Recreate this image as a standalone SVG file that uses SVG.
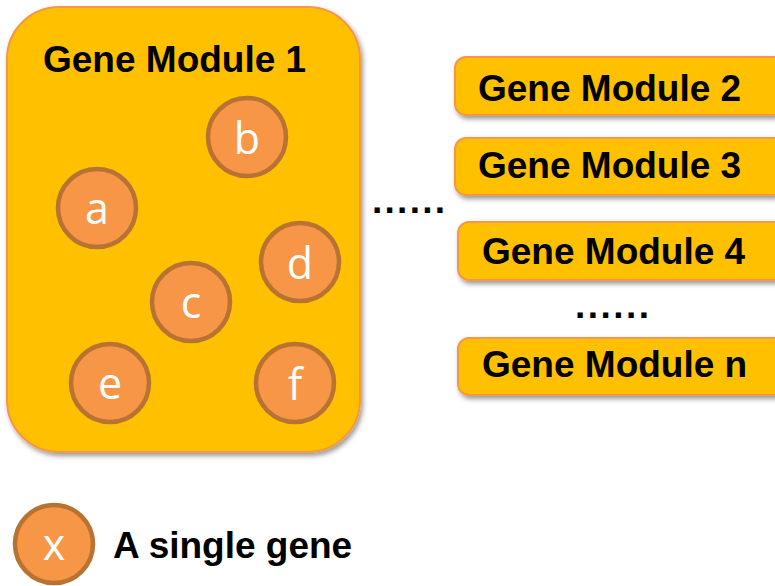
<svg xmlns="http://www.w3.org/2000/svg" width="775" height="586" viewBox="0 0 775 586">
<defs>
<filter id="sh" x="-10%" y="-10%" width="130%" height="140%">
<feDropShadow dx="2" dy="3" stdDeviation="2.5" flood-color="#000" flood-opacity="0.4"/>
</filter>
</defs>
<style>
.mod{fill:#FFC000;stroke:#F79646;stroke-width:2;filter:url(#sh)}
.gene{fill:#F79646;stroke:#B87333;stroke-width:4.5}
.gl{fill:#fff;font-family:"Open Sans","Liberation Sans",sans-serif;font-size:43px;text-anchor:middle}
.lbl{fill:#000;font-family:"Liberation Sans",Arial,sans-serif;font-weight:bold;font-size:37px}
</style>
<g id="module1">
<rect class="mod" x="7" y="7" width="353" height="445" rx="52" ry="52"/>
<text class="lbl" x="43" y="72">Gene Module 1</text>
</g>
<g id="gene-a"><circle class="gene" cx="97" cy="208" r="39"/><text class="gl" x="97" y="224">a</text></g>
<g id="gene-b"><circle class="gene" cx="247" cy="137" r="39"/><text class="gl" x="247" y="154">b</text></g>
<g id="gene-c"><circle class="gene" cx="191" cy="302" r="39"/><text class="gl" x="191" y="318">c</text></g>
<g id="gene-d"><circle class="gene" cx="300" cy="262" r="39"/><text class="gl" x="300" y="279">d</text></g>
<g id="gene-e"><circle class="gene" cx="110" cy="383" r="39"/><text class="gl" x="110" y="399">e</text></g>
<g id="gene-f"><circle class="gene" cx="295" cy="383" r="39"/><text class="gl" x="295" y="400">f</text></g>
<g id="module2">
<rect class="mod" x="455" y="57" width="330" height="58" rx="11"/>
<text class="lbl" x="478" y="101">Gene Module 2</text>
</g>
<g id="module3">
<rect class="mod" x="455" y="138" width="330" height="57" rx="11"/>
<text class="lbl" x="478" y="178">Gene Module 3</text>
</g>
<g id="module4">
<rect class="mod" x="458" y="222" width="330" height="58" rx="11"/>
<text class="lbl" x="482" y="264">Gene Module 4</text>
</g>
<g id="modulen">
<rect class="mod" x="458" y="338" width="330" height="57" rx="11"/>
<text class="lbl" x="482" y="377">Gene Module n</text>
</g>
<g id="ellipsis">
<text class="lbl" x="372" y="213" textLength="73" lengthAdjust="spacing">......</text>
<text class="lbl" x="575" y="318" textLength="74" lengthAdjust="spacing">......</text>
</g>
<g id="legend">
<circle class="gene" cx="54" cy="544" r="39"/><text class="gl" x="54" y="560">x</text>
<text class="lbl" x="113" y="558">A single gene</text>
</g>
<g id="connectors"></g>
</svg>
